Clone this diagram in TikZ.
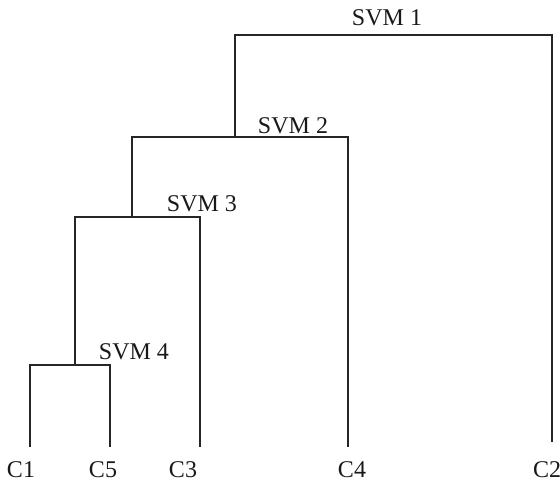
\documentclass[tikz,border=0pt]{standalone}
\usepackage{fontspec}
\setmainfont{Liberation Serif}
\begin{document}
\begin{tikzpicture}[x=1pt,y=-1pt,
  lbl/.style={font=\fontsize{24}{24}\selectfont, inner sep=0pt, text=black!90},
  branch/.style={draw=black!85, line width=1.8pt, line join=miter}]
\useasboundingbox (0,0) rectangle (560,482);
% leaf labels
\node[lbl] (c1) at (21,470) {C1};
\node[lbl] (c5) at (103,470) {C5};
\node[lbl] (c3) at (183,470) {C3};
\node[lbl] (c4) at (352,470) {C4};
\node[lbl] (c2) at (547,470) {C2};
% svm labels
\node[lbl] (s1) at (387,18) {SVM 1};
\node[lbl] (s2) at (293,126) {SVM 2};
\node[lbl] (s3) at (202,204) {SVM 3};
\node[lbl] (s4) at (134,352) {SVM 4};
% leaf line ends
\coordinate (l1) at (30,447);
\coordinate (l5) at (110,447);
\coordinate (l3) at (200,447);
\coordinate (l4) at (348,447);
\coordinate (l2) at (552,442);
% junctions
\coordinate (j4) at (75,365);
\coordinate (j3) at (132,217);
\coordinate (j2) at (235,137);
\coordinate (j1) at (387,35);
% tree
\draw[branch] (l1) |- (j4) -| (l5);
\draw[branch] (j4) |- (j3) -| (l3);
\draw[branch] (j3) |- (j2) -| (l4);
\draw[branch] (j2) |- (j1) -| (l2);
\end{tikzpicture}
\end{document}
